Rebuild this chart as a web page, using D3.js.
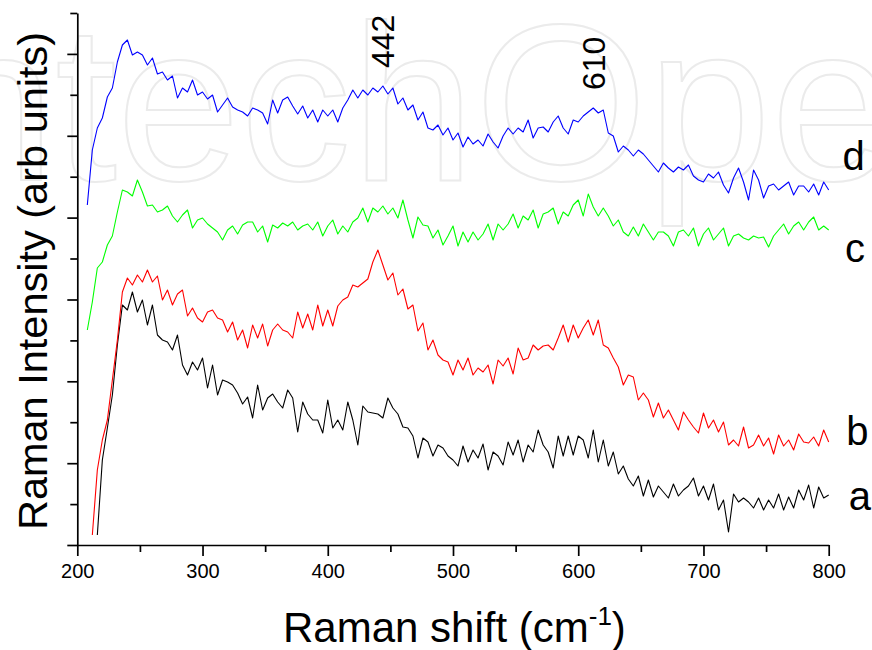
<!DOCTYPE html>
<html>
<head>
<meta charset="utf-8">
<script src="https://cdn.jsdelivr.net/npm/d3@7"></script>
<style>
  body { margin: 0; background: #fff; }
  text { font-family: "Liberation Sans", Arial, Helvetica, sans-serif; }
</style>
</head>
<body>
<div id="chart"></div>
<script>
const width = 872, height = 650;

// Raman shift grid (cm-1), one point every 4 cm-1
const shift = [208,212,216,220,224,228,232,236,240,244,248,252,256,260,264,268,272,276,280,284,
  288,292,296,300,304,308,312,316,320,324,328,332,336,340,344,348,352,356,360,364,
  368,372,376,380,384,388,392,396,400,404,408,412,416,420,424,428,432,436,440,444,
  448,452,456,460,464,468,472,476,480,484,488,492,496,500,504,508,512,516,520,524,
  528,532,536,540,544,548,552,556,560,564,568,572,576,580,584,588,592,596,600,604,
  608,612,616,620,624,628,632,636,640,644,648,652,656,660,664,668,672,676,680,684,
  688,692,696,700,704,708,712,716,720,724,728,732,736,740,744,748,752,756,760,764,
  768,772,776,780,784,788,792,796,800];

// intensities (arb units, stacked offsets as in the figure)
const spectrumA = [null,null,10,85,117,150,200,240,235,253,
  233,245,220,240,210,205,203,195,210,180,
  170,183,175,187,157,180,150,165,163,160,
  152,141,148,127,160,135,147,151,143,137,
  155,147,113,143,131,125,125,112,145,117,
  125,115,143,125,100,139,133,132,131,127,
  147,137,131,118,117,109,87,107,103,89,
  100,97,89,85,79,99,83,95,87,101,
  75,93,89,80,103,90,105,83,100,93,
  115,100,93,77,109,89,109,90,109,105,
  87,115,83,105,79,93,71,79,66,59,
  69,49,65,48,59,53,47,61,49,55,
  59,67,49,59,45,61,35,45,13,51,
  43,47,43,37,47,35,45,37,51,35,
  48,37,55,45,60,37,58,47,50];

const spectrumB = [null,10,75,105,125,165,205,253,267,260,
  270,263,275,263,269,245,255,240,251,255,
  229,237,227,223,233,235,227,225,213,223,
  205,215,197,220,207,221,199,215,221,215,
  213,207,233,217,231,215,240,219,235,219,
  239,245,248,260,258,262,266,283,295,280,
  265,272,250,256,236,240,214,222,195,205,
  190,185,183,170,185,175,187,170,177,173,
  180,161,185,179,187,171,197,185,187,200,
  195,199,200,195,207,220,203,220,207,217,
  225,210,225,200,197,187,178,160,170,168,
  145,152,145,128,142,127,135,125,115,133,
  125,118,112,132,117,125,113,123,100,105,
  99,118,97,100,110,99,107,91,110,99,
  105,95,111,103,102,108,99,115,103];

const spectrumC = [215,243,277,283,300,309,333,355,353,349,
  365,353,339,340,333,335,339,329,323,330,
  335,317,325,327,321,317,313,305,315,319,
  311,320,323,323,313,319,303,320,317,322,
  319,323,315,319,321,315,323,309,319,325,
  311,319,313,323,327,337,323,337,333,339,
  331,337,327,345,325,307,328,320,319,307,
  315,300,309,319,299,313,303,313,305,311,
  321,305,321,315,321,331,317,329,325,335,
  317,331,333,337,321,333,329,340,345,329,
  351,338,329,337,329,319,325,313,309,318,
  309,321,313,305,313,313,309,299,313,315,
  309,317,299,311,317,305,311,317,299,309,
  311,307,305,309,307,308,298,309,315,321,
  311,319,323,315,323,328,315,319,315];

const spectrumD = [340,395,417,427,448,457,483,500,505,490,
  493,490,480,487,471,473,465,469,447,457,
  453,465,450,453,446,450,433,440,447,438,
  435,433,429,437,435,432,421,445,432,445,
  448,439,431,439,427,435,423,435,429,435,
  423,437,445,455,447,455,450,457,453,459,
  451,457,441,447,435,440,425,433,417,415,
  420,410,417,405,412,398,408,401,405,399,
  411,403,397,409,417,411,417,413,425,407,
  417,418,413,423,429,417,411,425,423,429,
  433,437,432,435,412,409,393,399,395,389,
  395,391,385,379,373,382,377,373,378,375,
  380,369,365,363,371,367,373,360,352,367,
  377,363,345,375,365,347,359,361,355,359,
  363,350,359,359,353,361,350,363,355];

const seriesNames = ["a", "b", "c", "d"];
const seriesColors = ["#000000", "#ff0000", "#00ff00", "#0000ff"];
const seriesData = [spectrumA, spectrumB, spectrumC, spectrumD];
// where the curve letters sit (shift, intensity)
const labelPos = [[816, 35], [814, 100], [813, 283], [811, 375]];

const xTicks = [200,250,300,350,400,450,500,550,600,650,700,750,800];
const yTicks = [0,40.9,81.8,122.8,163.7,204.6,245.5,286.5,327.4,368.3,409.2,450.2,491.1,532];

const peakLabels = ["442", "610"];
const peakShift = [442, 610];
const peakLevel = [477, 455];

const svg = d3.select("#chart")
  .append("svg")
  .attr("width", width)
  .attr("height", height);

// faint publisher watermark behind the plot
svg.append("text")
  .attr("x", -130)
  .attr("y", 180)
  .attr("font-size", 222)
  .attr("fill", "none")
  .attr("stroke", "#ebebeb")
  .attr("stroke-width", 2)
  .text("IntechOpen");

const x = d3.scaleLinear().domain([200, 800]).range([77.3, 828.7]);
const y = d3.scaleLinear().domain([0, 532]).range([545, 13]);

// x axis
const xAxis = svg.append("g")
  .attr("transform", `translate(0,${y(0)})`)
  .call(d3.axisBottom(x)
    .tickValues(xTicks)
    .tickFormat(d => d % 100 === 0 ? d : "")
    .tickSize(11)
    .tickSizeOuter(0)
    .tickPadding(8));
xAxis.selectAll(".tick line")
  .attr("y2", d => d % 100 === 0 ? 11 : 7);
xAxis.selectAll(".tick text")
  .attr("font-size", 20)
  .attr("font-family", "Liberation Sans, Arial, sans-serif");

// y axis, no labels
const yAxis = svg.append("g")
  .attr("transform", `translate(${x(200)},0)`)
  .call(d3.axisLeft(y)
    .tickValues(yTicks)
    .tickFormat("")
    .tickSize(10)
    .tickSizeOuter(0));
yAxis.selectAll(".tick line")
  .attr("x2", (d, i) => i % 2 === 0 ? -10 : -7);

svg.selectAll(".domain, .tick line")
  .attr("stroke", "#000")
  .attr("stroke-width", 1.7);

// spectra
const line = d3.line()
  .defined(d => d[1] != null)
  .x(d => x(d[0]))
  .y(d => y(d[1]));

seriesData.forEach((vals, i) => {
  svg.append("path")
    .datum(shift.map((s, j) => [s, vals[j]]))
    .attr("fill", "none")
    .attr("stroke", seriesColors[i])
    .attr("stroke-width", 1.1)
    .attr("stroke-linejoin", "round")
    .attr("d", line);
});

// curve letters
svg.selectAll(".curve-label")
  .data(seriesNames)
  .enter()
  .append("text")
  .attr("class", "curve-label")
  .attr("x", (d, i) => x(labelPos[i][0]))
  .attr("y", (d, i) => y(labelPos[i][1]))
  .attr("font-size", 40)
  .text(d => d);

// peak positions, written vertically
svg.selectAll(".peak-label")
  .data(peakLabels)
  .enter()
  .append("text")
  .attr("class", "peak-label")
  .attr("transform", (d, i) => `translate(${x(peakShift[i]) + 14},${y(peakLevel[i])}) rotate(-90)`)
  .attr("font-size", 32)
  .text(d => d);

// axis titles
const xTitle = svg.append("text")
  .attr("x", 283)
  .attr("y", 642)
  .attr("font-size", 42);
xTitle.append("tspan").text("Raman shift (cm");
xTitle.append("tspan").attr("font-size", 26).attr("dy", -17).text("-1");
xTitle.append("tspan").attr("dy", 17).text(")");

svg.append("text")
  .attr("transform", "translate(47,281) rotate(-90)")
  .attr("text-anchor", "middle")
  .attr("font-size", 41.5)
  .text("Raman Intensity (arb units)");
</script>
</body>
</html>
